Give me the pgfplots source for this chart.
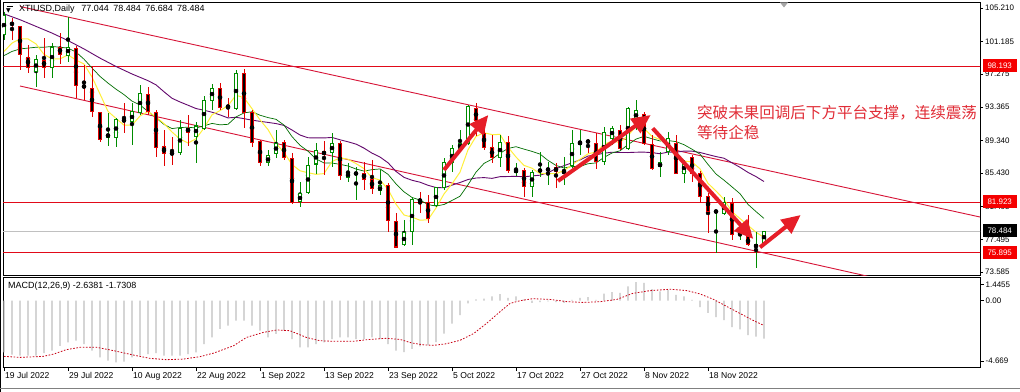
\documentclass[border=0pt]{standalone}
\usepackage{pgfplots}
\pgfplotsset{compat=1.18}
\usepackage{pgfplotstable}
\usetikzlibrary{arrows.meta}
\usepackage{fontspec}
\setmainfont{Liberation Sans}
\newfontfamily\cjk{Noto Sans CJK SC}
\newfontfamily\dvs{DejaVu Sans}
\definecolor{bullG}{RGB}{0,140,0}
\definecolor{bearR}{RGB}{225,0,0}
\definecolor{maY}{RGB}{255,240,60}
\definecolor{maG}{RGB}{0,110,0}
\definecolor{maP}{RGB}{100,10,110}
\definecolor{chanR}{RGB}{215,20,55}
\definecolor{hR}{RGB}{225,10,25}
\definecolor{lblR}{RGB}{245,0,0}
\definecolor{arrR}{RGB}{230,30,40}
\definecolor{txtR}{RGB}{225,45,55}
\definecolor{histG}{RGB}{192,192,192}
\definecolor{sigR}{RGB}{200,0,20}
\newcommand{\lblfont}{\fontsize{8}{9}\selectfont}

\pgfplotstableread{
i O H L C
0 101.97 104.72 101.40 104.36
4 97.54 99.57 95.74 99.09
6 98.13 101.01 96.82 100.53
8 99.57 104.10 98.74 100.53
13 89.75 92.63 88.67 90.11
14 89.75 92.03 88.55 91.79
16 91.55 93.82 88.80 92.75
17 92.63 95.98 92.39 95.02
22 87.84 91.79 87.60 90.83
24 89.87 91.55 86.64 91.07
25 90.83 94.66 90.59 94.18
26 94.18 96.10 92.99 95.62
29 93.22 97.78 92.99 97.30
33 86.64 88.20 86.28 87.48
34 87.72 90.59 87.24 89.03
37 81.97 84.36 81.37 82.93
38 83.05 87.36 82.93 86.28
39 86.52 89.03 85.32 88.08
41 87.84 90.23 86.16 89.03
43 84.96 86.64 84.36 85.44
44 85.32 86.16 82.21 85.44
47 83.29 85.80 82.81 83.89
50 76.82 79.81 76.70 78.26
51 78.38 82.57 76.82 82.21
54 81.49 83.77 81.37 83.65
55 83.65 87.24 83.41 86.64
56 86.64 88.80 85.56 88.32
57 88.32 90.59 87.96 89.03
58 89.03 93.58 88.80 93.46
62 87.24 89.99 86.16 89.15
64 85.56 86.64 85.08 85.80
66 83.77 85.80 82.57 85.56
67 85.68 87.96 84.96 85.80
68 85.80 86.76 84.00 85.92
70 85.44 87.36 84.00 85.68
71 86.40 90.59 86.04 89.03
72 88.91 90.59 87.60 89.15
75 86.76 90.95 86.40 90.35
76 89.63 91.07 88.80 90.83
78 88.43 93.34 88.20 93.22
79 91.80 94.20 90.60 92.90
82 86.16 87.96 84.96 86.64
83 87.96 90.35 87.60 89.63
85 85.44 86.99 84.24 86.64
89 80.77 81.01 75.86 80.89
90 80.65 82.57 80.41 81.90
92 78.02 78.74 77.42 78.50
94 76.58 78.38 74.06 76.82
95 77.044 78.484 76.684 78.484
}\bull

\pgfplotstableread{
i O H L C
1 103.40 104.00 101.37 103.20
2 102.93 103.05 97.78 99.60
3 99.33 100.77 97.42 98.13
5 98.97 101.61 96.82 98.13
7 100.53 102.20 98.50 99.69
9 100.41 100.65 94.42 95.98
10 95.86 98.37 94.18 95.74
11 95.62 98.13 92.15 92.75
12 92.63 92.75 89.15 89.51
15 91.79 93.82 90.23 91.67
18 94.90 95.74 92.39 92.75
19 92.63 92.99 87.36 88.55
20 88.67 90.59 86.28 87.72
21 87.84 89.75 86.40 87.72
23 90.83 92.39 88.67 90.35
27 95.62 96.22 92.99 93.34
28 93.46 94.42 92.15 93.34
30 97.30 97.90 90.83 92.63
31 92.63 92.99 88.55 89.15
32 89.27 89.39 86.28 86.64
35 89.15 89.39 86.99 87.24
36 87.12 87.84 81.73 81.85
40 87.96 89.27 85.20 87.72
42 89.03 89.27 84.60 85.20
45 85.44 86.76 83.41 84.72
46 84.72 86.99 82.93 83.53
48 84.00 84.24 78.38 79.81
49 79.69 80.65 76.46 76.58
52 82.21 83.17 80.65 82.09
53 81.85 82.81 79.45 80.05
59 93.22 93.82 89.90 91.67
60 90.23 90.83 88.20 88.55
61 88.55 89.99 86.64 87.24
63 89.15 89.87 85.44 85.80
65 85.80 86.04 82.57 83.77
69 86.04 86.64 83.65 85.68
73 89.27 89.51 87.84 89.15
74 89.03 90.23 85.92 86.76
77 90.59 91.19 88.20 88.43
80 92.40 92.75 88.80 89.03
81 88.80 89.99 85.80 86.04
84 89.03 89.99 85.32 85.44
86 87.24 87.60 84.36 85.44
87 85.44 85.68 81.85 82.57
88 82.57 83.05 78.26 80.89
91 81.73 82.45 77.42 78.02
93 77.78 80.41 76.70 76.82
}\bear

\pgfplotstableread{
i m
0 -3.60
1 -3.75
2 -3.83
3 -3.83
4 -3.83
5 -3.65
6 -3.48
7 -3.14
8 -2.90
9 -2.79
10 -3.02
11 -3.48
12 -3.95
13 -4.18
14 -4.30
15 -4.25
16 -3.95
17 -3.83
18 -3.72
19 -3.65
20 -3.83
21 -3.83
22 -3.83
23 -3.72
24 -3.60
25 -3.02
26 -2.56
27 -1.97
28 -1.74
29 -1.39
30 -1.39
31 -1.74
32 -2.09
33 -2.56
34 -2.32
35 -2.09
36 -2.67
37 -3.25
38 -3.25
39 -3.02
40 -2.90
41 -2.67
42 -2.56
43 -2.56
44 -2.67
45 -2.67
46 -2.56
47 -2.67
48 -3.02
49 -3.48
50 -3.58
51 -3.35
52 -3.18
53 -3.11
54 -2.88
55 -2.29
56 -1.59
57 -1.01
58 -0.19
59 0.10
60 0.15
61 0.30
62 0.45
63 0.20
64 0.30
65 0.10
66 -0.15
67 -0.10
68 -0.05
69 -0.10
70 -0.15
71 0.05
72 0.20
73 0.25
74 0.05
75 0.50
76 0.60
77 0.55
78 1.00
79 1.30
80 1.25
81 0.80
82 0.65
83 0.75
84 0.40
85 0.30
86 0.05
87 -0.45
88 -0.85
89 -1.15
90 -1.35
91 -1.85
92 -2.00
93 -2.40
94 -2.50
95 -2.64
}\macd

\pgfplotsset{
  wick/.style={only marks, mark=none, forget plot,
    error bars/.cd, y dir=both, y explicit, error mark=none,
    error bar style={draw=#1, line width=1bp}},
  body/.style 2 args={only marks, mark=none, forget plot,
    error bars/.cd, y dir=both, y explicit, error mark=none,
    error bar style={draw=#1, line width=#2}},
}

\begin{document}
\begin{tikzpicture}
\useasboundingbox (0bp,0bp) rectangle (1020bp,392bp);
\fill[white] (0bp,0bp) rectangle (1020bp,392bp);
\draw[black, line width=0.8bp] (0.6bp,0bp) -- (0.6bp,392bp);
\draw[gray, line width=0.8bp] (0bp,3.5bp) -- (1020bp,3.5bp);

% ---------------- main price panel ----------------
\begin{axis}[
  at={(3bp,116.5bp)}, anchor=south west, scale only axis,
  width=977bp, height=272.8bp,
  xmin=-0.125, xmax=122, ymin=73.166, ymax=105.837,
  axis line style={black, line width=0.8bp},
  xtick=\empty, xticklabels={},
  ytick={73.585,77.495,81.405,85.43,89.34,93.365,97.275,101.185,105.21},
  yticklabels={73.585,77.495,81.405,85.430,89.340,93.365,97.275,101.185,105.210},
  ytick pos=right, yticklabel pos=right, tick align=outside,
  major tick length=3bp, tick style={black, line width=0.6bp},
  yticklabel style={font=\lblfont, anchor=west, inner xsep=1bp, xshift=1bp},
  clip mode=individual,
]
% horizontal levels
\addplot[hR, line width=1bp, forget plot] coordinates {(-1,98.193) (123,98.193)};
\addplot[hR, line width=1bp, forget plot] coordinates {(-1,81.923) (123,81.923)};
\addplot[hR, line width=1bp, forget plot] coordinates {(-1,75.895) (123,75.895)};
\addplot[histG, line width=0.8bp, forget plot] coordinates {(-1,78.484) (123,78.484)};
% channel
\addplot[chanR, line width=0.9bp, forget plot] coordinates {(2,105.38) (122,80.17)};
\addplot[chanR, line width=0.9bp, forget plot] coordinates {(2,95.86) (107.25,73.23) (122,70.0)};

% moving averages
\addplot[maP, line width=0.9bp, forget plot] coordinates {
(0,104.5)(2,103.8)(4,103.0)(6,102.2)(8,101.3)(10,100.3)(12,99.2)(14,98.2)(16,97.3)(18,96.5)
(19,96.0)(20,95.17)(21,94.39)(22,93.95)(23,93.56)(24,93.16)(25,92.96)(26,92.72)(27,92.40)(28,92.04)
(29,92.11)(30,91.95)(31,91.77)(32,91.63)(33,91.50)(34,91.36)(35,91.14)(36,90.59)(37,89.99)(38,89.66)
(39,89.64)(40,89.64)(41,89.70)(42,89.42)(43,89.18)(44,88.90)(45,88.42)(46,87.82)(47,87.35)(48,86.67)
(49,85.63)(50,84.92)(51,84.57)(52,84.34)(53,83.97)(54,83.70)(55,83.67)(56,83.99)(57,84.30)(58,84.66)
(59,84.84)(60,84.89)(61,84.80)(62,85.00)(63,85.02)(64,85.04)(65,84.99)(66,85.09)(67,85.18)(68,85.49)
(69,85.95)(70,86.32)(71,86.66)(72,87.01)(73,87.47)(74,87.62)(75,87.81)(76,87.93)(77,87.90)(78,87.89)
(79,87.93)(80,87.94)(81,87.88)(82,87.75)(83,87.94)(84,87.93)(85,88.07)(86,88.06)(87,87.90)(88,87.65)
(89,87.41)(90,87.21)(91,86.66)(92,86.12)(93,85.51)(94,85.01)(95,84.42)};
\addplot[maG, line width=0.7bp, forget plot] coordinates {
(0,99.5)(1,100.0)(2,100.3)(3,100.4)(4,100.5)(5,100.5)(6,100.6)(7,100.5)(8,100.4)(9,99.93)
(10,99.07)(11,98.02)(12,97.01)(13,96.21)(14,95.48)(15,94.83)(16,94.05)(17,93.59)(18,92.81)(19,92.06)
(20,91.26)(21,90.76)(22,90.89)(23,90.92)(24,90.84)(25,91.09)(26,91.38)(27,91.21)(28,91.27)(29,92.15)
(30,92.64)(31,92.78)(32,92.36)(33,92.08)(34,91.87)(35,91.18)(36,89.80)(37,88.76)(38,88.05)(39,87.13)
(40,86.64)(41,86.63)(42,86.48)(43,86.28)(44,85.92)(45,85.67)(46,85.84)(47,85.93)(48,85.29)(49,84.14)
(50,83.19)(51,82.51)(52,82.20)(53,81.66)(54,81.48)(55,81.67)(56,82.15)(57,82.66)(58,84.03)(59,85.54)
(60,86.59)(61,87.10)(62,87.80)(63,88.38)(64,88.59)(65,88.30)(66,88.03)(67,87.71)(68,86.95)(69,86.35)
(70,86.04)(71,86.22)(72,86.22)(73,86.55)(74,86.65)(75,87.31)(76,87.84)(77,88.10)(78,88.83)(79,89.50)
(80,89.83)(81,89.54)(82,89.28)(83,89.33)(84,89.20)(85,88.83)(86,88.29)(87,87.70)(88,86.47)(89,85.32)
(90,84.58)(91,83.78)(92,82.96)(93,81.68)(94,80.82)(95,80.00)};
\addplot[maY, line width=1bp, forget plot] coordinates {
(0,100.0)(1,101.0)(2,101.5)(3,101.5)(4,100.90)(5,99.65)(6,99.10)(7,99.11)(8,99.59)(9,98.97)
(10,98.49)(11,96.94)(12,94.90)(13,92.82)(14,91.98)(15,91.17)(16,91.17)(17,92.27)(18,92.80)(19,92.15)
(20,91.36)(21,90.35)(22,89.51)(23,89.03)(24,89.54)(25,90.83)(26,92.41)(27,92.91)(28,93.51)(29,94.76)
(30,94.45)(31,93.15)(32,91.81)(33,90.64)(34,88.99)(35,87.91)(36,86.45)(37,85.71)(38,85.47)(39,85.28)
(40,85.37)(41,86.81)(42,87.26)(43,87.09)(44,86.57)(45,85.97)(46,84.87)(47,84.60)(48,83.48)(49,81.71)
(50,80.41)(51,80.15)(52,79.79)(53,79.84)(54,81.25)(55,82.93)(56,84.15)(57,85.54)(58,88.22)(59,89.82)
(60,90.26)(61,90.04)(62,90.06)(63,88.53)(64,87.36)(65,86.35)(66,86.02)(67,85.35)(68,85.37)(69,85.35)
(70,85.73)(71,86.42)(72,87.09)(73,87.74)(74,87.95)(75,88.89)(76,89.25)(77,89.10)(78,89.92)(79,91.04)
(80,90.78)(81,89.82)(82,89.46)(83,88.75)(84,87.36)(85,86.88)(86,86.76)(87,85.94)(88,84.20)(89,83.29)
(90,82.28)(91,80.80)(92,79.98)(93,79.17)(94,78.35)(95,77.73)};

% candles: wicks
\addplot[wick=bullG] table[x=i, y expr={(\thisrow{H}+\thisrow{L})/2}, y error expr={(\thisrow{H}-\thisrow{L})/2}] {\bull};
\addplot[wick=bearR] table[x=i, y expr={(\thisrow{H}+\thisrow{L})/2}, y error expr={(\thisrow{H}-\thisrow{L})/2}] {\bear};
% bodies
\addplot[body={bullG}{4.6bp}] table[x=i, y expr={(\thisrow{O}+\thisrow{C})/2}, y error expr={abs(\thisrow{C}-\thisrow{O})/2+0.06}] {\bull};
\addplot[body={white}{2.6bp}] table[x=i, y expr={(\thisrow{O}+\thisrow{C})/2}, y error expr={max(abs(\thisrow{C}-\thisrow{O})/2-0.06,0)}] {\bull};
\addplot[body={bearR}{4.6bp}] table[x=i, y expr={(\thisrow{O}+\thisrow{C})/2}, y error expr={abs(\thisrow{C}-\thisrow{O})/2+0.06}] {\bear};
\addplot[body={black}{2.6bp}] table[x=i, y expr={(\thisrow{O}+\thisrow{C})/2}, y error expr={max(abs(\thisrow{C}-\thisrow{O})/2-0.06,0)}] {\bear};
\end{axis}

% ---------------- MACD panel ----------------
\begin{axis}[
  at={(3bp,24.3bp)}, anchor=south west, scale only axis,
  width=977bp, height=90.2bp,
  xmin=-0.125, xmax=122, ymin=-4.669, ymax=1.617,
  axis line style={black, line width=0.8bp},
  xtick={0,8,...,88},
  xticklabels={19 Jul 2022,29 Jul 2022,10 Aug 2022,22 Aug 2022,1 Sep 2022,13 Sep 2022,23 Sep 2022,5 Oct 2022,17 Oct 2022,27 Oct 2022,8 Nov 2022,18 Nov 2022},
  xtick pos=bottom, ytick pos=right, yticklabel pos=right, tick align=outside,
  major tick length=3.5bp, tick style={black, line width=0.6bp},
  xticklabel style={font=\fontsize{8.6}{9}\selectfont, anchor=north west, inner xsep=0.5bp, inner ysep=1bp, xshift=0.5bp},
  ytick={1.12,0,-4.2},
  yticklabels={1.4455,0.00,-4.669},
  yticklabel style={font=\lblfont, anchor=west, inner xsep=1bp, xshift=1bp},
  clip mode=individual,
]
\addplot[ybar, bar width=1.1bp, fill=histG, draw=none, forget plot] table[x=i, y=m] {\macd};
\addplot[sigR, line width=0.8bp, dash pattern=on 1.6bp off 1.6bp, forget plot] coordinates {
(0,-3.88)(2,-3.95)(4.9,-3.88)(6.2,-3.72)(7.8,-3.41)(9.5,-3.25)(11.6,-3.25)(13.7,-3.48)(16.2,-3.79)
(18.25,-4.02)(20.3,-4.11)(22.4,-4.07)(24.5,-3.90)(26.2,-3.65)(28.7,-3.14)(30.3,-2.56)(32.4,-2.21)
(34.1,-2.04)(35.75,-2.09)(37.8,-2.56)(39.5,-2.79)(41.2,-2.83)(43.7,-2.83)(45.3,-2.72)(47.8,-2.62)
(49.5,-2.70)(51,-2.95)(52.5,-3.08)(53.7,-3.11)(55.3,-3.0)(57,-2.76)(58.7,-2.29)(60.3,-1.59)(62,-0.77)
(63.25,-0.19)(64.5,0)(66.1,0.14)(68.25,0.09)(70.4,-0.07)(72.4,-0.12)(74.5,-0.07)(76.6,0.09)(78.6,0.51)
(80.75,0.70)(83.25,0.80)(85.4,0.70)(87,0.47)(88.7,0.09)(90.4,-0.42)(92,-0.89)(93.6,-1.36)(95,-1.73)};
\end{axis}

% ---------------- annotations ----------------
\node[anchor=west, inner sep=0, font=\fontsize{9}{10}\selectfont] at (19bp,383bp) {XTIUSD,Daily\hspace{7bp}77.044\hspace{4.5bp}78.484\hspace{4.5bp}76.684\hspace{4.5bp}78.484};
\node[anchor=west, inner sep=0, font=\dvs\fontsize{6}{6}\selectfont] at (6bp,381.5bp) {▼};
\draw[black, line width=0.8bp] (6.5bp,385.5bp) -- (12.5bp,385.5bp);
\node[anchor=west, inner sep=0, font=\fontsize{9}{10}\selectfont] at (8bp,106bp) {MACD(12,26,9) -2.6381 -1.7308};
\fill[gray!70] (780bp,389.5bp) -- (788bp,389.5bp) -- (784bp,384.5bp) -- cycle;

% price tags
\node[fill=lblR, text=white, font=\lblfont, inner sep=0, minimum width=34bp, minimum height=13bp, anchor=west] at (982.5bp,326bp) {98.193};
\node[fill=lblR, text=white, font=\lblfont, inner sep=0, minimum width=34bp, minimum height=13bp, anchor=west] at (982.5bp,190bp) {81.923};
\node[fill=black, text=white, font=\lblfont, inner sep=0, minimum width=34bp, minimum height=13bp, anchor=west] at (982.5bp,161bp) {78.484};
\node[fill=lblR, text=white, font=\lblfont, inner sep=0, minimum width=34bp, minimum height=13bp, anchor=west] at (982.5bp,139bp) {75.895};

% arrows
\begin{scope}[arrR, line width=4bp, -{Triangle[length=19bp,width=17bp]}]
\draw (444bp,222bp) -- (488.3bp,277bp);
\draw (558bp,211bp) -- (650.7bp,277bp);
\draw (652.7bp,263.7bp) -- (753.3bp,153bp);
\draw (760bp,144.7bp) -- (800.7bp,177bp);
\end{scope}

% text
\node[anchor=west, inner sep=0, text=txtR, font=\cjk\fontsize{15.6}{18}\selectfont] at (697bp,279.5bp) {突破未果回调后下方平台支撑，连续震荡};
\node[anchor=west, inner sep=0, text=txtR, font=\cjk\fontsize{15.6}{18}\selectfont] at (697bp,259.5bp) {等待企稳};
\end{tikzpicture}
\end{document}
